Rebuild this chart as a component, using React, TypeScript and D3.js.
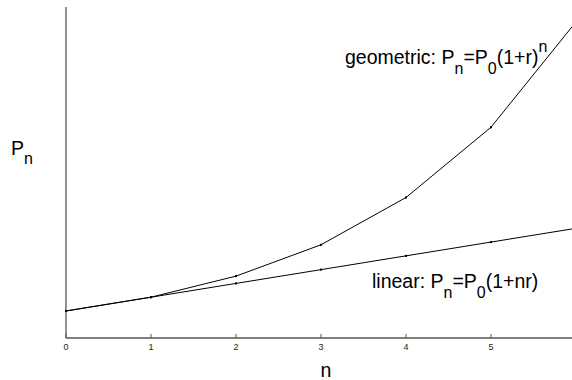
import React from "react";
import * as d3 from "d3";

// Periods n and the two growth models (P0 = 1, r ≈ 0.51)
const periods = [0, 1, 2, 3, 4, 5, 6];
const geometricValues = [1, 1.51, 2.29, 3.45, 5.2, 7.8, 11.7];
const linearValues = [1, 1.51, 2.02, 2.53, 3.04, 3.55, 4.06];
const xTicks = [0, 1, 2, 3, 4, 5, 6];

const W = 572;
const H = 380;
const FONT = "'Liberation Sans', Arial, Helvetica, sans-serif";

export default function App() {
  const x = d3.scaleLinear().domain([0, 6]).range([66, 576]);
  const y = d3.scaleLinear().domain([0, 12.25]).range([338, 7]);

  const line = d3
    .line<number>()
    .x((_, i) => x(periods[i]))
    .y((d) => y(d));

  const axisColor = "#555";
  const big = 19.5;
  const small = 16;

  return (
    <div style={{ position: "fixed", left: 0, top: 0 }}>
      <svg width={W} height={H} style={{ display: "block", background: "#fff" }}>
        {/* axes */}
        <line x1={x(0)} x2={x(0)} y1={y.range()[1]} y2={y.range()[0]} stroke={axisColor} strokeWidth={1.3} />
        <line x1={x.range()[0]} x2={x.range()[1]} y1={y(0)} y2={y(0)} stroke={axisColor} strokeWidth={1.3} />
        {xTicks.map((t) => (
          <g key={t}>
            <line x1={x(t)} x2={x(t)} y1={y(0)} y2={y(0) - 4} stroke={axisColor} strokeWidth={1} />
            <text x={x(t)} y={350} textAnchor="middle" fontSize={9} fontFamily={FONT} fill="#222">
              {t}
            </text>
          </g>
        ))}

        {/* series */}
        <path d={line(geometricValues) || ""} fill="none" stroke="#000" strokeWidth={1} />
        <path d={line(linearValues) || ""} fill="none" stroke="#000" strokeWidth={1} />
        {geometricValues.map((v, i) => (
          <rect key={"g" + i} x={x(periods[i]) - 1} y={y(v) - 1} width={2} height={2} fill="#000" />
        ))}
        {linearValues.map((v, i) => (
          <rect key={"l" + i} x={x(periods[i]) - 1} y={y(v) - 1} width={2} height={2} fill="#000" />
        ))}

        {/* labels */}
        <text x={345} y={64} fontSize={big} fontFamily={FONT} fill="#000">
          geometric: P
          <tspan dy={10} fontSize={small}>n</tspan>
          <tspan dy={-10}>=P</tspan>
          <tspan dy={10} fontSize={small}>0</tspan>
          <tspan dy={-10}>(1+r)</tspan>
          <tspan dy={-12} fontSize={small}>n</tspan>
        </text>
        <text x={372} y={288} fontSize={big} fontFamily={FONT} fill="#000">
          linear: P
          <tspan dy={10} fontSize={small}>n</tspan>
          <tspan dy={-10}>=P</tspan>
          <tspan dy={10} fontSize={small}>0</tspan>
          <tspan dy={-10}>(1+nr)</tspan>
        </text>
        <text x={11} y={155} fontSize={big} fontFamily={FONT} fill="#000">
          P
          <tspan dy={9} fontSize={small}>n</tspan>
        </text>
        <text x={326} y={377} textAnchor="middle" fontSize={big} fontFamily={FONT} fill="#000">
          n
        </text>
      </svg>
    </div>
  );
}
